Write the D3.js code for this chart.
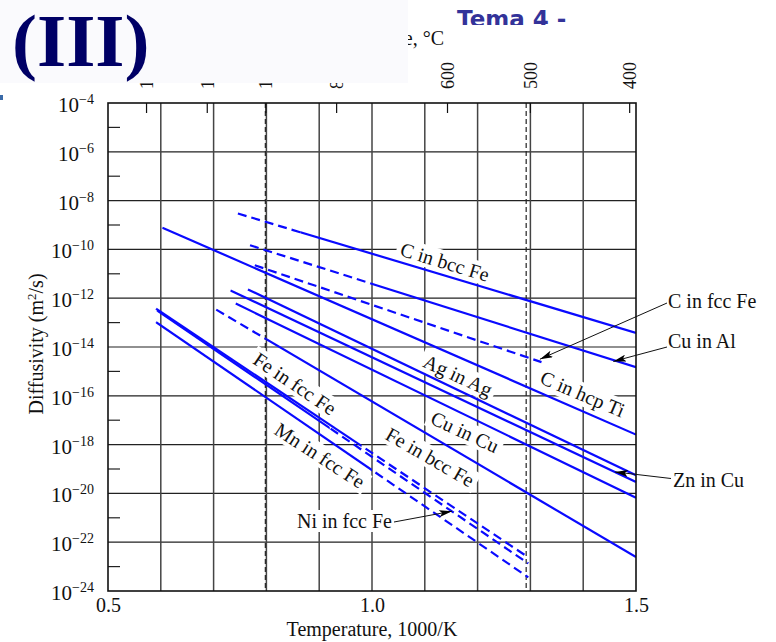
<!DOCTYPE html>
<html>
<head>
<meta charset="utf-8">
<script src="https://cdn.jsdelivr.net/npm/d3@7"></script>
<style>
  body { margin: 0; background: #fff; }
  svg text { font-family: "Liberation Serif", "Times New Roman", serif; }
</style>
</head>
<body>
<script>
var margin = {left: 108, right: 140, top: 103, bottom: 51},
    width = 776 - margin.left - margin.right,
    height = 642 - margin.top - margin.bottom;

// ---- data ----
// each curve is a straight Arrhenius line: start/end in 1000/K and log10 D (m2/s)
var seriesNames = ["C in bcc Fe", "Cu in Al", "C in hcp Ti", "C in fcc Fe", "Ag in Ag", "Zn in Cu",
                   "Cu in Cu", "Fe in bcc Fe", "Fe in fcc Fe", "Ni in fcc Fe", "Mn in fcc Fe"];
var xStart    = [0.746, 0.769, 0.603, 0.778, 0.765, 0.732, 0.742, 0.705, 0.591, 0.593, 0.591];
var xEnd      = [1.500, 1.500, 1.500, 1.321, 1.500, 1.500, 1.500, 1.500, 1.296, 1.296, 1.296];
var logDStart = [-8.53, -9.83, -9.11, -10.65, -11.64, -11.68, -12.22, -12.47, -12.43, -12.50, -12.98];
var logDEnd   = [-13.42, -14.83, -17.59, -14.62, -19.26, -19.53, -20.18, -22.61, -22.62, -22.87, -23.44];
// part of each line drawn solid (the rest is dashed); null = dashed everywhere
var solidFrom = [0.864, 1.000, 0.603, null, 0.765, 0.732, 0.742, 0.800, 0.591, 0.593, 0.591];
var solidTo   = [1.500, 1.500, 1.500, null, 1.500, 1.500, 1.500, 1.500, 0.980, 0.920, 1.000];

// axes
var xTicks = [0.5, 1.0, 1.5];
var xGrid = [0.6, 0.7, 0.8, 0.9, 1.0, 1.1, 1.2, 1.3, 1.4];
var yMajorExp = [-4, -6, -8, -10, -12, -14, -16, -18, -20, -22, -24];
var yMinorExp = [-5, -7, -9, -11, -13, -15, -17, -19, -21, -23];
// top scale in degrees C, placed where the figure puts them (1000/K)
var topTickC    = [1400, 1200, 1000, 800, 600, 500, 400];
var topTickInvK = [0.573, 0.688, 0.799, 0.933, 1.143, 1.300, 1.488];
var dashedC     = [1000, 500];
var dashedInvK  = [0.798, 1.292];

// arrow targets of the call-out labels (1000/K, log10 D)
var calloutNames  = ["C in fcc Fe", "Cu in Al", "Zn in Cu", "Ni in fcc Fe"];
var calloutTarget = [[1.318, -14.50], [1.457, -14.59], [1.460, -19.12], [1.1515, -20.73]];

// ---- svg ----
var root = d3.select("body").append("svg")
    .attr("width", 776)
    .attr("height", 642);

// slide title behind the picture
root.append("text")
    .attr("x", 457).attr("y", 27)
    .style("font-family", "'DejaVu Sans', Verdana, sans-serif")
    .attr("font-weight", "bold")
    .attr("font-size", "23px")
    .attr("fill", "#333399")
    .text("Tema 4 -");

root.append("rect")
    .attr("x", 0).attr("y", 25)
    .attr("width", 776).attr("height", 617)
    .attr("fill", "#fff");

var svg = root.append("g")
    .attr("transform", "translate(" + margin.left + "," + margin.top + ")");

var xScale = d3.scaleLinear()
    .domain([0.5, 1.5])
    .range([0, width]);

var yScale = d3.scaleLog()
    .domain([1e-24, 1e-4])
    .range([height, 0]);

function yExp(e) { return yScale(Math.pow(10, e)); }

var defs = root.append("defs");
defs.append("marker")
    .attr("id", "arrow")
    .attr("markerUnits", "userSpaceOnUse")
    .attr("markerWidth", 13).attr("markerHeight", 7)
    .attr("refX", 13).attr("refY", 3.5)
    .attr("orient", "auto")
    .append("path")
    .attr("d", "M0,0 L13,3.5 L0,7 L3,3.5 Z")
    .attr("fill", "#000");

//Grid
var grid = svg.append("g").attr("class", "grid");

grid.selectAll(".hgrid")
    .data(yMajorExp.slice(1, -1))
    .enter().append("line")
    .attr("class", "hgrid")
    .attr("x1", 0).attr("x2", width)
    .attr("y1", function(d) { return yExp(d); })
    .attr("y2", function(d) { return yExp(d); })
    .attr("stroke", "#222").attr("stroke-width", 1.2);

grid.selectAll(".vgrid")
    .data(xGrid)
    .enter().append("line")
    .attr("class", "vgrid")
    .attr("y1", 0).attr("y2", height)
    .attr("x1", function(d) { return xScale(d); })
    .attr("x2", function(d) { return xScale(d); })
    .attr("stroke", "#444").attr("stroke-width", 1.5);

//Minor ticks on the left
grid.selectAll(".minor")
    .data(yMinorExp)
    .enter().append("line")
    .attr("x1", 0).attr("x2", 12)
    .attr("y1", function(d) { return yExp(d); })
    .attr("y2", function(d) { return yExp(d); })
    .attr("stroke", "#222").attr("stroke-width", 1.2);

//Dashed temperature markers
grid.selectAll(".tline")
    .data(dashedInvK)
    .enter().append("line")
    .attr("y1", 0).attr("y2", height)
    .attr("x1", function(d) { return xScale(d); })
    .attr("x2", function(d) { return xScale(d); })
    .attr("stroke", "#222").attr("stroke-width", 1.2)
    .attr("stroke-dasharray", "5,3");

//Label backgrounds go under the curves, text above
var bgLayer = svg.append("g");
var lineLayer = svg.append("g");
var labelLayer = svg.append("g");

var lineGen = d3.line()
    .x(function(d) { return xScale(d[0]); })
    .y(function(d) { return yExp(d[1]); });

seriesNames.forEach(function(name, i) {
    var pts = [[xStart[i], logDStart[i]], [xEnd[i], logDEnd[i]]];

    var clipSolid = defs.append("clipPath").attr("id", "solid" + i);
    var clipDash = defs.append("clipPath").attr("id", "dash" + i);
    if (solidFrom[i] === null) {
        clipDash.append("rect").attr("x", -20).attr("y", -20)
            .attr("width", width + 40).attr("height", height + 40);
    } else {
        var a = xScale(solidFrom[i]), b = xScale(solidTo[i]);
        clipSolid.append("rect").attr("x", a).attr("y", -20)
            .attr("width", b - a).attr("height", height + 40);
        clipDash.append("rect").attr("x", -20).attr("y", -20)
            .attr("width", a + 20).attr("height", height + 40);
        clipDash.append("rect").attr("x", b).attr("y", -20)
            .attr("width", width + 20 - b).attr("height", height + 40);
    }

    lineLayer.append("path")
        .datum(pts)
        .attr("d", lineGen)
        .attr("clip-path", "url(#solid" + i + ")")
        .attr("fill", "none")
        .attr("stroke", "#0a0aff")
        .attr("stroke-width", 2.2);

    lineLayer.append("path")
        .datum(pts)
        .attr("d", lineGen)
        .attr("clip-path", "url(#dash" + i + ")")
        .attr("fill", "none")
        .attr("stroke", "#0a0aff")
        .attr("stroke-width", 2.2)
        .attr("stroke-dasharray", "9,5");
});

//In-plot labels: [name, 1000/K, log10 D, angle]
var labelLayout = [
    ["C in bcc Fe", 1.138, -10.51, 17],
    ["C in hcp Ti", 1.399, -15.92, 23],
    ["Ag in Ag", 1.163, -15.16, 25],
    ["Cu in Cu", 1.176, -17.48, 25],
    ["Fe in bcc Fe", 1.110, -18.51, 30],
    ["Fe in fcc Fe", 0.854, -15.50, 34],
    ["Mn in fcc Fe", 0.9015, -18.44, 33]
];

labelLayout.forEach(function(l) {
    var tr = "translate(" + xScale(l[1]) + "," + yExp(l[2]) + ") rotate(" + l[3] + ")";
    var t = labelLayer.append("text")
        .attr("transform", tr)
        .attr("text-anchor", "middle")
        .attr("dy", "0.35em")
        .attr("font-size", "20px")
        .attr("fill", "#111")
        .text(l[0]);
    var bb = t.node().getBBox();
    bgLayer.append("rect")
        .attr("transform", tr)
        .attr("x", bb.x - 4).attr("y", bb.y)
        .attr("width", bb.width + 8).attr("height", bb.height)
        .attr("fill", "#fff");
});

//Frame
svg.append("rect")
    .attr("width", width).attr("height", height)
    .attr("fill", "none")
    .attr("stroke", "#111").attr("stroke-width", 1.6);

//X-axis
var xAxis = d3.axisBottom(xScale).tickValues(xTicks).tickFormat(d3.format(".1f"))
    .tickSize(0).tickPadding(7);
svg.append("g")
    .attr("class", "x axis")
    .attr("transform", "translate(0," + height + ")")
    .call(xAxis)
    .call(function(g) {
        g.select(".domain").remove();
        g.selectAll("text").attr("font-size", "20px").attr("fill", "#111")
            .style("font-family", "'Liberation Serif', serif");
    });

svg.append("text")
    .attr("x", width / 2)
    .attr("y", height + 45)
    .attr("text-anchor", "middle")
    .attr("font-size", "20px")
    .attr("fill", "#111")
    .text("Temperature, 1000/K");

//Y-axis
var yAxis = d3.axisLeft(yScale)
    .tickValues(yMajorExp.map(function(e) { return Math.pow(10, e); }))
    .tickSize(0).tickPadding(14);
svg.append("g")
    .attr("class", "y axis")
    .call(yAxis)
    .call(function(g) {
        g.select(".domain").remove();
        g.selectAll("text").each(function(d) {
            var t = d3.select(this)
                .attr("font-size", "21px").attr("fill", "#111").attr("dy", "0.4em")
                .style("font-family", "'Liberation Serif', serif");
            var e = Math.round(Math.log10(d));
            t.text(null);
            t.append("tspan").text("10");
            t.append("tspan").attr("dy", "-8").attr("font-size", "14px")
                .text("\u2212" + Math.abs(e));
        });
    });

var ylab = svg.append("text")
    .attr("transform", "translate(-72," + (height / 2 - 3) + ") rotate(-90)")
    .attr("text-anchor", "middle")
    .attr("dy", "0.35em")
    .attr("font-size", "20px")
    .attr("fill", "#111");
ylab.append("tspan").text("Diffusivity (m");
ylab.append("tspan").attr("dy", "-7").attr("font-size", "13px").text("2");
ylab.append("tspan").attr("dy", "7").text("/s)");

//Top axis in degrees C
var topAxis = svg.append("g").attr("class", "top axis");
topAxis.selectAll(".tt")
    .data(topTickInvK)
    .enter().append("line")
    .attr("x1", function(d) { return xScale(d); })
    .attr("x2", function(d) { return xScale(d); })
    .attr("y1", 0).attr("y2", 10)
    .attr("stroke", "#111").attr("stroke-width", 1.2);
topAxis.selectAll(".tl")
    .data(topTickInvK)
    .enter().append("text")
    .attr("transform", function(d) { return "translate(" + xScale(d) + ",-14) rotate(-90)"; })
    .attr("dy", "0.35em")
    .attr("font-size", "18px")
    .attr("fill", "#111")
    .text(function(d, i) { return topTickC[i]; });

svg.append("text")
    .attr("x", width / 2 + 6)
    .attr("y", -58)
    .attr("text-anchor", "middle")
    .attr("font-size", "20px")
    .attr("fill", "#111")
    .text("Temperature, \u00b0C");

//Call-out labels with arrows
var calloutLayout = [
    {tx: width + 32, ty: 205, lx: width + 31, ly: 200},
    {tx: width + 32, ty: 245, lx: width + 31, ly: 244},
    {tx: width + 37, ty: 383.5, lx: width + 35, ly: 375.5},
    {tx: 284, ty: 425, lx: 286, ly: 419}
];

var calloutLayer = svg.append("g").attr("class", "callouts");

calloutNames.forEach(function(name, i) {
    var c = calloutLayout[i];
    var g = calloutLayer.append("g");
    var bg = g.append("rect").attr("fill", "#fff");
    var t = g.append("text")
        .attr("x", c.tx).attr("y", c.ty)
        .attr("text-anchor", i === 3 ? "end" : "start")
        .attr("font-size", "20px")
        .attr("fill", "#111")
        .text(name);
    var bb = t.node().getBBox();
    bg.attr("x", bb.x - 3).attr("y", bb.y)
        .attr("width", bb.width + 6).attr("height", bb.height);
    g.append("line")
        .attr("x1", c.lx).attr("y1", c.ly)
        .attr("x2", xScale(calloutTarget[i][0]))
        .attr("y2", yExp(calloutTarget[i][1]))
        .attr("stroke", "#111").attr("stroke-width", 1)
        .attr("marker-end", "url(#arrow)");
});

//Slide overlay in the top-left corner
root.append("rect")
    .attr("x", 0).attr("y", 0)
    .attr("width", 408).attr("height", 83)
    .attr("fill", "#fafafd");

root.append("text")
    .attr("x", 12).attr("y", 66)
    .attr("font-size", "75px")
    .attr("font-weight", "bold")
    .attr("fill", "#000066")
    .text("(III)");

root.append("rect")
    .attr("x", 0).attr("y", 95)
    .attr("width", 3).attr("height", 5)
    .attr("fill", "#3a6aa8");
</script>
</body>
</html>
